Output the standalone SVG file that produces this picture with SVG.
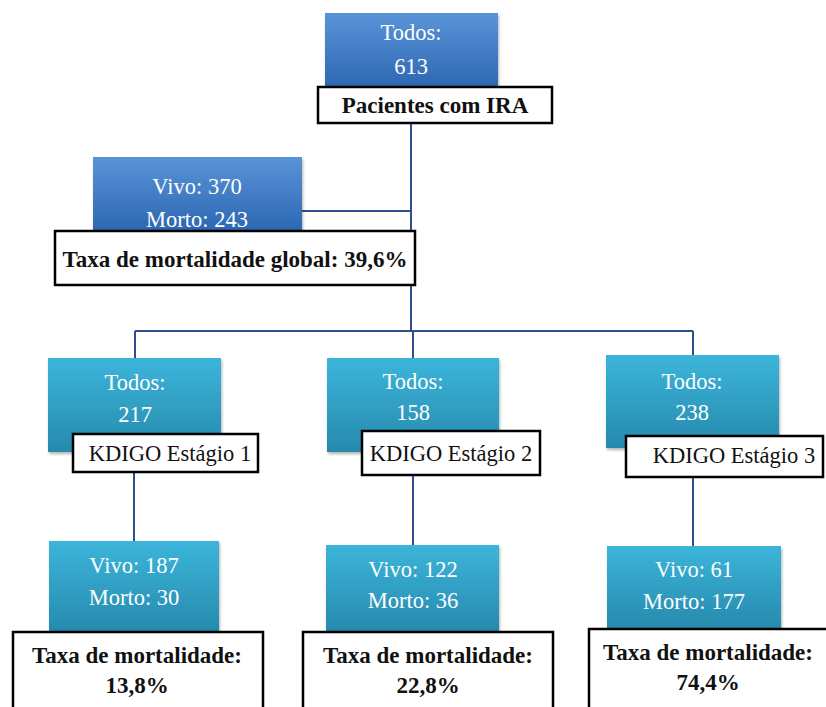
<svg xmlns="http://www.w3.org/2000/svg" width="826" height="707" viewBox="0 0 826 707">
<defs>
<linearGradient id="gBlue" x1="0" y1="0" x2="0" y2="1">
<stop offset="0" stop-color="#5a94d8"/>
<stop offset="1" stop-color="#2a64b0"/>
</linearGradient>
<linearGradient id="gCyan" x1="0" y1="0" x2="0" y2="1">
<stop offset="0" stop-color="#3cb5da"/>
<stop offset="1" stop-color="#2689ad"/>
</linearGradient>
<filter id="sh" x="-10%" y="-10%" width="130%" height="130%">
<feDropShadow dx="1" dy="2" stdDeviation="1.5" flood-color="#000" flood-opacity="0.3"/>
</filter>
</defs>
<style>
.b{fill:url(#gBlue);filter:url(#sh)}
.c{fill:url(#gCyan);filter:url(#sh)}
.w{font-family:'Liberation Serif',serif;font-size:22.5px;fill:#ffffff;text-anchor:middle}
.lb{fill:#ffffff;stroke:#000000;stroke-width:2.5}
.bt{font-family:'Liberation Serif',serif;font-size:23px;font-weight:bold;fill:#111111;text-anchor:middle}
.nt{font-family:'Liberation Serif',serif;font-size:22.5px;fill:#111111;text-anchor:middle}
.ln{stroke:#2e4f8c;stroke-width:2;fill:none}
</style>
<rect width="826" height="707" fill="#ffffff"/>
<g id="connectors">
<path class="ln" d="M411,123 V331"/>
<path class="ln" d="M302,211 H411"/>
<path class="ln" d="M135,331 H693"/>
<path class="ln" d="M135,331 V358"/>
<path class="ln" d="M413,331 V358"/>
<path class="ln" d="M693,331 V355"/>
<path class="ln" d="M134,472 V541"/>
<path class="ln" d="M413,475 V545"/>
<path class="ln" d="M693,477 V546"/>
</g>
<g id="todos">
<rect class="b" x="325" y="13" width="173" height="80"/>
<text class="w" x="411" y="40">Todos:</text>
<text class="w" x="411" y="74">613</text>
</g>
<g id="pacientes">
<rect class="lb" x="318" y="87" width="234" height="36"/>
<text class="bt" x="435" y="113">Pacientes com IRA</text>
</g>
<g id="vivo-morto">
<rect class="b" x="93" y="157" width="209" height="78"/>
<text class="w" x="197" y="194">Vivo: 370</text>
<text class="w" x="197" y="227">Morto: 243</text>
</g>
<g id="taxa-global">
<rect class="lb" x="55" y="231" width="360" height="54"/>
<text class="bt" x="235" y="267">Taxa de mortalidade global: 39,6%</text>
</g>
<g id="stage1">
<rect class="c" x="48" y="358" width="173" height="94"/>
<text class="w" x="135" y="390">Todos:</text>
<text class="w" x="135" y="422">217</text>
<rect class="lb" x="73" y="434" width="185" height="38"/>
<text class="nt" x="170" y="461">KDIGO Estágio 1</text>
</g>
<g id="stage2">
<rect class="c" x="327" y="358" width="172" height="94"/>
<text class="w" x="413" y="389">Todos:</text>
<text class="w" x="413" y="420">158</text>
<rect class="lb" x="362" y="431" width="178" height="44"/>
<text class="nt" x="451" y="461">KDIGO Estágio 2</text>
</g>
<g id="stage3">
<rect class="c" x="606" y="355" width="173" height="93"/>
<text class="w" x="692" y="389">Todos:</text>
<text class="w" x="692" y="420">238</text>
<rect class="lb" x="626" y="436" width="197" height="41"/>
<text class="nt" x="734" y="463">KDIGO Estágio 3</text>
</g>
<g id="result1">
<rect class="c" x="49" y="541" width="170" height="92"/>
<text class="w" x="134" y="573">Vivo: 187</text>
<text class="w" x="134" y="605">Morto: 30</text>
<rect class="lb" x="13" y="632" width="250" height="80"/>
<text class="bt" x="137" y="663">Taxa de mortalidade:</text>
<text class="bt" x="137" y="693">13,8%</text>
</g>
<g id="result2">
<rect class="c" x="326" y="545" width="173" height="88"/>
<text class="w" x="413" y="577">Vivo: 122</text>
<text class="w" x="413" y="608">Morto: 36</text>
<rect class="lb" x="303" y="632" width="250" height="80"/>
<text class="bt" x="428" y="663">Taxa de mortalidade:</text>
<text class="bt" x="428" y="693">22,8%</text>
</g>
<g id="result3">
<rect class="c" x="607" y="546" width="174" height="84"/>
<text class="w" x="694" y="577">Vivo: 61</text>
<text class="w" x="694" y="609">Morto: 177</text>
<rect class="lb" x="589" y="629" width="250" height="85"/>
<text class="bt" x="708" y="660">Taxa de mortalidade:</text>
<text class="bt" x="708" y="690">74,4%</text>
</g>
</svg>
